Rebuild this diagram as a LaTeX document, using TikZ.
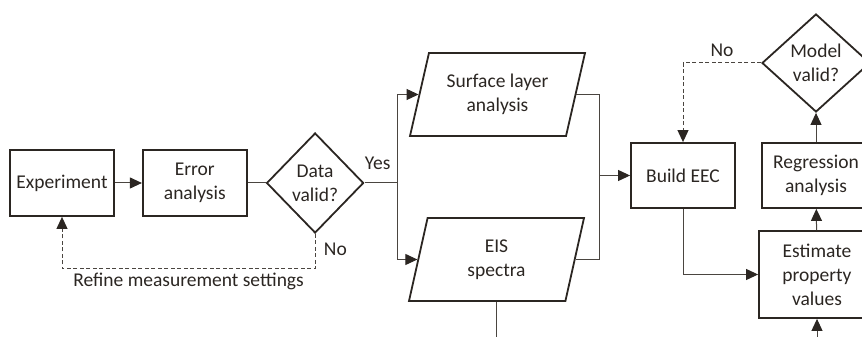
\documentclass[tikz,border=0pt]{standalone}
\usepackage{fontspec}
\setmainfont{Carlito}
\usetikzlibrary{shapes.geometric, arrows.meta, positioning, calc}
\definecolor{boxline}{HTML}{2B2622}
\definecolor{connline}{HTML}{4A4540}

\begin{document}
\begin{tikzpicture}[x=1pt, y=1pt, node distance=18pt,
    font=\fontsize{19.5}{24}\selectfont, text=boxline]

    % --- Styles ---
    \tikzset{
        process/.style={rectangle, draw=boxline, line width=1.8pt, minimum width=104pt, minimum height=66pt, align=center, inner sep=2pt},
        decision/.style={diamond, aspect=1, draw=boxline, line width=1.8pt, align=center, inner sep=0pt},
        dataio/.style={trapezium, trapezium left angle=67, trapezium right angle=113, trapezium stretches body=true, draw=boxline, line width=1.8pt, minimum width=175pt, minimum height=83pt, align=center, inner sep=2pt},
        arrow/.style={draw=connline, line width=1pt, -{Triangle[length=12pt, width=11pt, color=boxline]}},
        link/.style={draw=connline, line width=1pt},
        loopback/.style={arrow, dash pattern=on 4pt off 2.5pt}
    }

    \useasboundingbox (0,0) rectangle (862,337);
    \clip (0,0) rectangle (862,337);

    % --- Nodes ---
    \node (exp) [process] at (62,154) {Experiment};
    \node (err) [process, right=27pt of exp] {Error\\analysis};
    \node (data) [decision, minimum width=97pt, minimum height=100pt, right=18pt of err] {Data\\valid?};

    \node (surf) [dataio] at (497.5,242.5) {Surface layer\\analysis};
    \node (eis) [dataio] at (496.5,77.5) {EIS\\spectra};

    \node (build) [process, minimum height=65pt] at (683,161.5) {Build EEC};
    \node (regr) [process, minimum width=108pt, minimum height=65pt] at (816,161.5) {Regression\\analysis};
    \node (model) [decision, minimum width=108pt, minimum height=98pt] at (816,274) {Model\\valid?};
    \node (est) [process, minimum width=116pt, minimum height=87pt] at (817,62.5) {Estimate\\property\\values};

    \coordinate (split) at ($(data.east)+(33,0)$);
    \coordinate (join) at (599,161.5);
    \coordinate (eisout) at ($(eis.south)+(0,-50)$);
    \coordinate (estin) at ($(est.south)+(0,-50)$);

    % --- Connections ---
    \draw [arrow] (exp) -- (err);
    \draw [link] (err) -- (data);
    \draw [link] (data.east) -- node [above, pos=0.4, yshift=10pt] {Yes} (split);
    \draw [arrow] (split) |- (surf.west);
    \draw [arrow] (split) |- (eis.west);
    \draw [link] (surf.east) -| (join);
    \draw [link] (eis.east) -| (join);
    \draw [arrow] (join) -- (build);
    \draw [link] (eis.south) -- (eisout);
    \draw [arrow] (build.south) |- (est.west);
    \draw [arrow] (estin) -- (est.south);
    \draw [arrow] (est) -- (regr);
    \draw [arrow] (regr) -- (model);

    % Dashed loops back
    \draw [loopback] (data.south) -- ++(0,-35) node [pos=0.45, right=5pt] {No}
        -| node [pos=0.25, below=0pt] {Refine measurement settings} (exp.south);
    \draw [loopback] (model.west) -| node [pos=0.25, above=3pt] {No} (build.north);

\end{tikzpicture}
\end{document}
